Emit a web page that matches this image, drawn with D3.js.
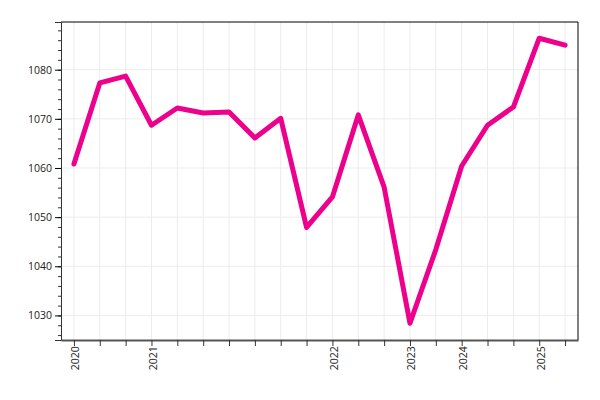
<!DOCTYPE html>
<html>
<head>
<meta charset="utf-8">
<script src="https://cdn.jsdelivr.net/npm/d3@7"></script>
<style>
  body { margin: 0; background: #fff; }
  svg text { font-family: "Open Sans", sans-serif; }
</style>
</head>
<body>
<div class="chart"></div>
<script>
// one point per period, only some carry a year label
const periods = d3.range(20);
const yearLabels = { 0: "2020", 3: "2021", 10: "2022", 13: "2023", 15: "2024", 18: "2025" };
const values = [1060.8, 1077.3, 1078.7, 1068.7, 1072.2, 1071.2, 1071.4, 1066.1, 1070.1, 1047.9,
  1054.1, 1070.8, 1056.1, 1028.4, 1043.4, 1060.4, 1068.7, 1072.4, 1086.4, 1085.0];
const yTicks = [1030, 1040, 1050, 1060, 1070, 1080];

const margin = { top: 22, right: 22, bottom: 60, left: 61 };
const width = 600 - margin.left - margin.right,
  height = 400 - margin.top - margin.bottom;

const svg = d3
  .select(".chart")
  .append("svg")
  .attr("width", 600)
  .attr("height", 400)
  .append("g")
  .attr("transform", "translate(" + margin.left + "," + margin.top + ")");

let xScale = d3.scalePoint().domain(periods).range([0, width]).padding(0.5);
let yScale = d3.scaleLinear().domain([1025, 1089.7]).range([height, 0]);

// grid
svg.append("g")
  .selectAll("line.vgrid")
  .data(periods)
  .join("line")
  .attr("x1", d => xScale(d)).attr("x2", d => xScale(d))
  .attr("y1", 0).attr("y2", height)
  .attr("stroke", "#ececec").attr("stroke-width", 1);

svg.append("g")
  .selectAll("line.hgrid")
  .data(yTicks)
  .join("line")
  .attr("x1", 0).attr("x2", width)
  .attr("y1", d => yScale(d)).attr("y2", d => yScale(d))
  .attr("stroke", "#ececec").attr("stroke-width", 1);

// frame top + right
svg.append("path")
  .attr("d", `M0,0H${width}V${height}`)
  .attr("fill", "none")
  .attr("stroke", "#000")
  .attr("stroke-width", 1);

// minor y ticks
svg.append("g")
  .attr("class", "y-minor")
  .call(d3.axisLeft(yScale).tickValues(d3.range(1026, 1090, 2)).tickSize(3).tickFormat(""))
  .call(g => g.select(".domain").remove())
  .selectAll("line").attr("stroke", "#333");

let y_axis = svg.append("g")
  .attr("class", "y-axis")
  .call(d3.axisLeft(yScale).tickValues(yTicks).tickSize(6).tickPadding(3).tickFormat(d3.format("d")));
y_axis.select(".domain").attr("stroke", "#333");
y_axis.selectAll("text").attr("font-size", "10.5px").attr("fill", "#222");

let x_axis = svg.append("g")
  .attr("class", "x-axis")
  .attr("transform", `translate(0, ${height})`)
  .call(d3.axisBottom(xScale).tickSize(6).tickSizeOuter(0).tickFormat(d => yearLabels[d] || ""));
x_axis.select(".domain").attr("stroke", "#555").attr("stroke-width", 2);
x_axis.selectAll("line").attr("stroke", "#333");
x_axis.selectAll("text")
  .attr("font-size", "10.5px")
  .attr("fill", "#222")
  .style("text-anchor", "end")
  .attr("dx", "-0.6em")
  .attr("dy", "-0.4em")
  .attr("transform", "rotate(-90)");

const line = d3.line()
  .x((d, i) => xScale(periods[i]))
  .y(d => yScale(d));

svg.append("path")
  .datum(values)
  .attr("d", line)
  .attr("fill", "none")
  .attr("stroke", "#ec008c")
  .attr("stroke-width", 5)
  .attr("stroke-linejoin", "round")
  .attr("stroke-linecap", "round");
</script>
</body>
</html>
